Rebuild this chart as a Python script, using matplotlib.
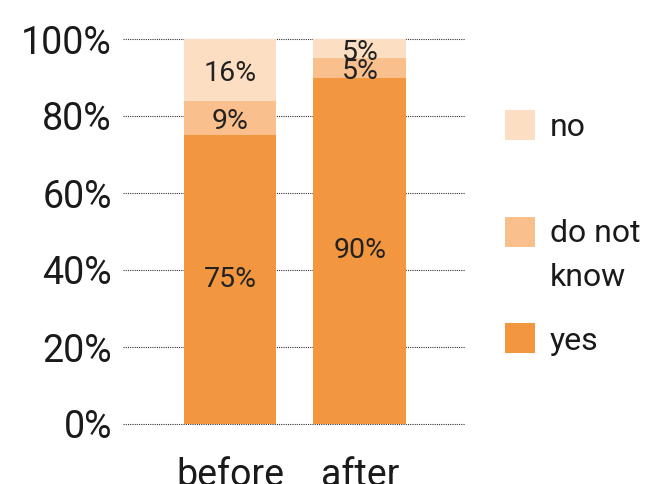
import matplotlib
matplotlib.use("Agg")
import matplotlib.pyplot as plt
from matplotlib.patches import Rectangle

plt.rcParams['font.family'] = ['Roboto', 'DejaVu Sans']

groups = ['before', 'after']
yes = [75, 90]
dont_know = [9, 5]
no = [16, 5]
series_names = ['no', 'do not\nknow', 'yes']
colors = {'yes': '#F39640', 'dnk': '#F9C08D', 'no': '#FCDFC3'}

W, H = 661, 484
fig = plt.figure(figsize=(W / 100, H / 100), dpi=100)
ax = fig.add_axes([123 / W, 1 - 424 / H, (465 - 123) / W, (424 - 39) / H])

x = range(len(groups))
bw = 0.715
bot2 = [a + b for a, b in zip(yes, dont_know)]
ax.bar(x, yes, bw, color=colors['yes'], linewidth=0, zorder=2)
ax.bar(x, dont_know, bw, bottom=yes, color=colors['dnk'], linewidth=0, zorder=2)
ax.bar(x, no, bw, bottom=bot2, color=colors['no'], linewidth=0, zorder=2)

lab = dict(ha='center', va='center', fontsize=20.5, color='#222222')
for i in x:
    ax.text(i, yes[i] / 2, f'{yes[i]}%', **lab)
    # small segments: labels sit a bit low, as in the original
    ax.text(i, yes[i] + dont_know[i] / 2 - 1, f'{dont_know[i]}%', **lab)
    ax.text(i, bot2[i] + no[i] / 2 - 1, f'{no[i]}%', **lab)

ticks = [0, 20, 40, 60, 80, 100]
ax.set_xlim(-0.823, 1.808)
ax.set_ylim(0, 100)
ax.set_yticks(ticks)
ax.set_yticklabels([f'{v}%' for v in ticks])
ax.set_xticks(list(x))
ax.set_xticklabels(groups)
ax.tick_params(axis='y', length=0, pad=8, labelsize=27, labelcolor='#1a1a1a')
ax.tick_params(axis='x', length=0, pad=24, labelsize=27, labelcolor='#1a1a1a')
for s in ax.spines.values():
    s.set_visible(False)
for t in ticks:
    ax.axhline(t, linestyle=(0, (1, 1)), linewidth=0.8, color='#333333', zorder=1, clip_on=False)

# legend drawn by hand
leg_y = [125, 232, 338]
leg_c = [colors['no'], colors['dnk'], colors['yes']]
for yy, c, name in zip(leg_y, leg_c, series_names):
    fig.add_artist(Rectangle((505 / W, 1 - (yy + 15) / H), 30 / W, 30 / H,
                             transform=fig.transFigure, color=c, linewidth=0))
    if '\n' in name:
        fig.text(550 / W, 1 - (yy - 13) / H, name, ha='left', va='top', fontsize=23,
                 linespacing=1.65, color='#1a1a1a')
    else:
        fig.text(550 / W, 1 - (yy + 3) / H, name, ha='left', va='center', fontsize=23, color='#1a1a1a')

fig.savefig('out.png', dpi=100)
